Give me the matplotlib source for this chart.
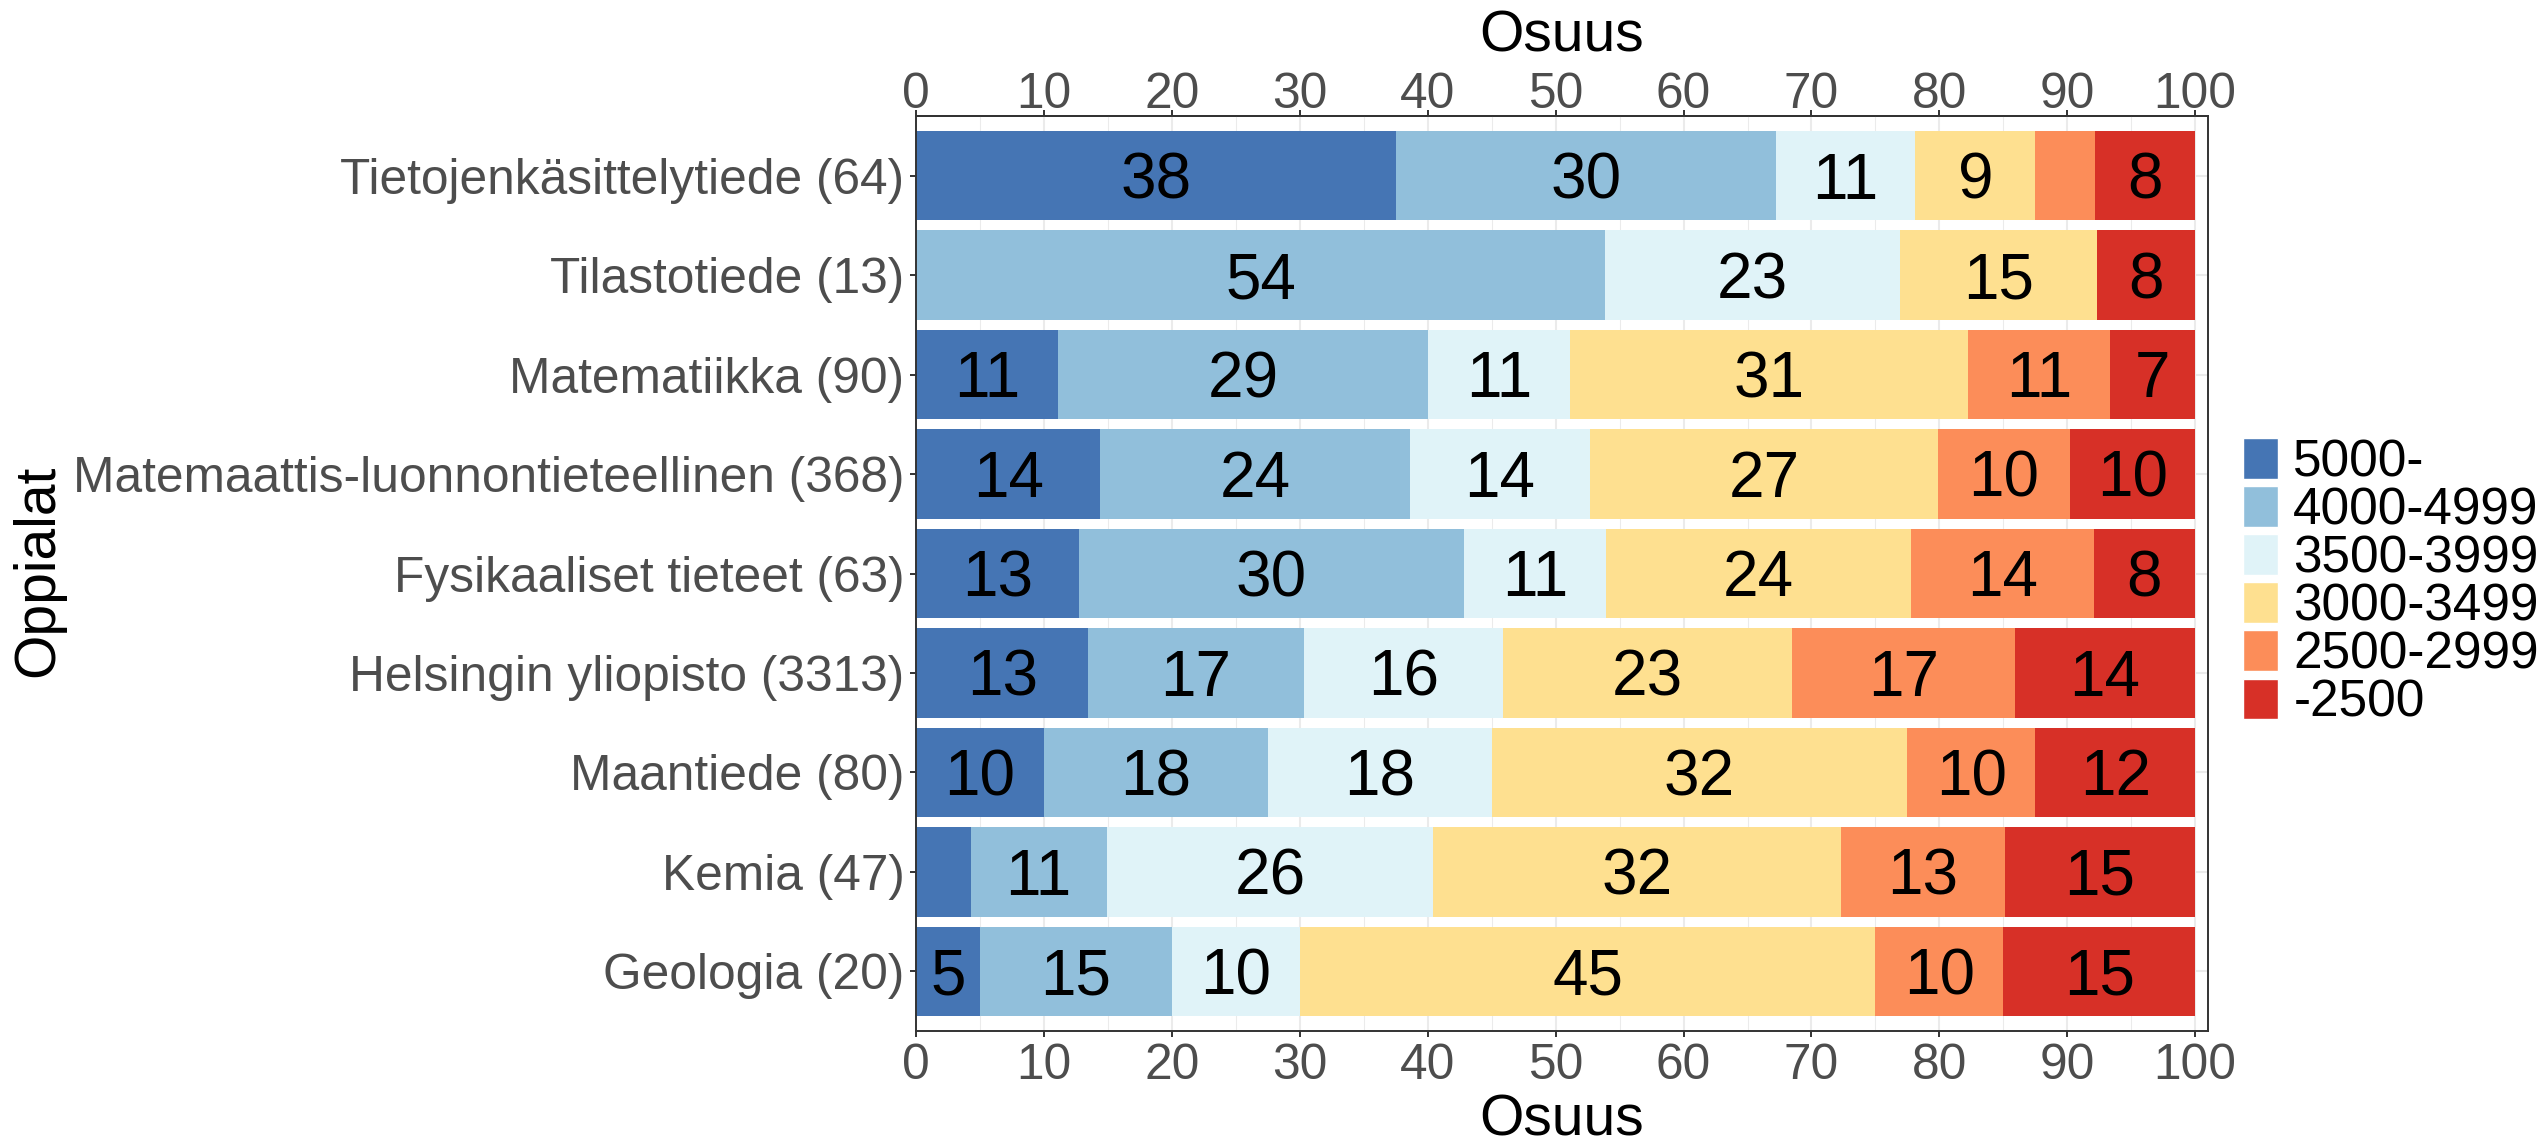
import matplotlib
matplotlib.use('Agg')
import matplotlib.pyplot as plt
import matplotlib.transforms as mtransforms
import numpy as np

plt.rcParams['font.family'] = ['Liberation Sans', 'DejaVu Sans']

# oppialat ylhäältä alas, suluissa vastaajien lukumäärä
categories = ['Tietojenkäsittelytiede (64)', 'Tilastotiede (13)', 'Matematiikka (90)',
              'Matemaattis-luonnontieteellinen (368)', 'Fysikaaliset tieteet (63)',
              'Helsingin yliopisto (3313)', 'Maantiede (80)', 'Kemia (47)', 'Geologia (20)']
groups = ['5000-', '4000-4999', '3500-3999', '3000-3499', '2500-2999', '-2500']
colors = ['#4575B4', '#91BFDB', '#E0F3F8', '#FEE090', '#FC8D59', '#D73027']

# lukumäärät palkkaluokittain (sama järjestys kuin categories)
n_5000 = [24, 0, 10, 53, 8, 446, 8, 2, 1]
n_4000 = [19, 7, 26, 89, 19, 558, 14, 5, 3]
n_3500 = [7, 3, 10, 52, 7, 517, 14, 12, 2]
n_3000 = [6, 2, 28, 100, 15, 747, 26, 15, 9]
n_2500 = [3, 0, 10, 38, 9, 578, 8, 6, 2]
n_alle = [5, 1, 6, 36, 5, 467, 10, 7, 3]

counts = np.array([n_5000, n_4000, n_3500, n_3000, n_2500, n_alle], dtype=float)
pct = counts / counts.sum(axis=0) * 100

W, H = 2542, 1143
fig = plt.figure(figsize=(W / 100, H / 100), dpi=100)
ax_l, ax_b, ax_w, ax_h = 0.3604, 0.0980, 0.5082, 0.8005
ax = fig.add_axes([ax_l, ax_b, ax_w, ax_h])

y = np.arange(len(categories))
left = np.zeros(len(categories))
handles = []
lab_fs = 46
cap = 0.716 * lab_fs
tr = mtransforms.offset_copy(ax.transData, fig=fig, y=-cap / 2, units='points')
for i, g in enumerate(groups):
    b = ax.barh(y, pct[i], left=left, height=0.9, color=colors[i], label=g,
                linewidth=0, zorder=2)
    handles.append(b)
    for j in range(len(categories)):
        v = pct[i, j]
        if v >= 5:
            ax.text(left[j] + v / 2, y[j], str(round(v)), ha='center', va='baseline',
                    fontsize=lab_fs, color='black', transform=tr, zorder=3)
    left += pct[i]

xt = np.arange(0, 101, 10)
ax.set_xlim(0, 101)
ax.set_ylim(len(categories) - 0.4, -0.6)
ax.set_yticks(y)
ax.set_yticklabels(categories)
ax.set_xticks(xt)
ax.set_xticks(np.arange(5, 101, 10), minor=True)

ax.grid(which='major', color='#EBEBEB', linewidth=1.5, zorder=0)
ax.grid(which='minor', axis='x', color='#EBEBEB', linewidth=0.75, zorder=0)
ax.set_axisbelow(True)

for s in ax.spines.values():
    s.set_color('#333333')
    s.set_linewidth(1.4)

tick_kw = dict(length=4.3, width=1.4, color='#333333', labelsize=35.7, labelcolor='#4D4D4D')
ax.tick_params(which='major', pad=4, **tick_kw)
ax.tick_params(which='minor', length=0)

# yläakselin asteikko
secax = ax.secondary_xaxis('top')
secax.set_xticks(xt)
secax.tick_params(which='major', pad=-5.4, **tick_kw)
secax.tick_params(which='minor', length=0)
secax.spines['top'].set_color('#333333')
secax.spines['top'].set_linewidth(1.4)

# akselien otsikot
title_fs = 41
cx = ax_l + ax_w / 2
fig.text(cx, 1 - 51 / H, 'Osuus', fontsize=title_fs, ha='center', va='baseline')
fig.text(cx, 1 - 1136 / H, 'Osuus', fontsize=title_fs, ha='center', va='baseline')
fig.text(38 / W, 1 - 571 / H, 'Oppialat', fontsize=title_fs, rotation=90,
         ha='center', va='center')

leg = ax.legend(handles=handles, loc='upper left', bbox_to_anchor=(2243 / W, 1 - 438 / H),
                bbox_transform=fig.transFigure, frameon=False, fontsize=37,
                handlelength=0.68, handleheight=0.84, handletextpad=0.3,
                labelspacing=-0.02, borderpad=0, borderaxespad=0)
for h in leg.legend_handles:
    h.set_edgecolor('white')
    h.set_linewidth(1)

fig.savefig('out.png', dpi=100, facecolor='white')
